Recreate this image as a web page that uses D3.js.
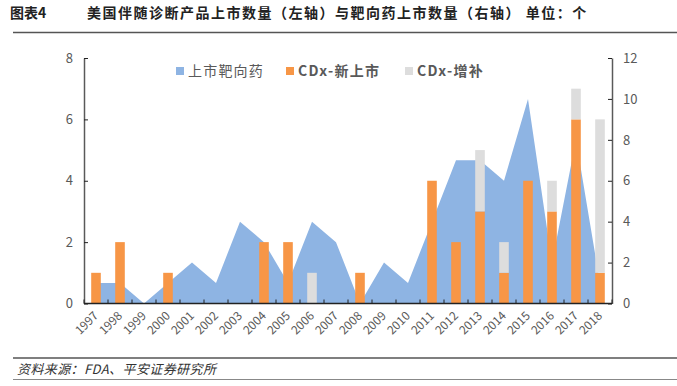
<!DOCTYPE html>
<html>
<head>
<meta charset="utf-8">
<script src="https://cdn.jsdelivr.net/npm/d3@7"></script>
<style>
  body { margin: 0; background: #fff; }
  svg text { font-family: "Noto Sans CJK SC", "Liberation Sans", sans-serif; }
</style>
</head>
<body>
<div id="chart"></div>
<script>
const years = ["1997","1998","1999","2000","2001","2002","2003","2004","2005","2006","2007",
  "2008","2009","2010","2011","2012","2013","2014","2015","2016","2017","2018"];
// 上市靶向药 (right axis)
const drugs = [1, 1, 0, 1, 2, 1, 4, 3, 1, 4, 3, 0, 2, 1, 4, 7, 7, 6, 10, 2, 8, 1];
// CDx-新上市 (left axis)
const cdxNew = [1, 2, 0, 1, 0, 0, 0, 2, 2, 0, 0, 1, 0, 0, 4, 2, 3, 1, 4, 3, 6, 1];
// CDx-增补 (left axis, stacked)
const cdxAdd = [0, 0, 0, 0, 0, 0, 0, 0, 0, 1, 0, 0, 0, 0, 0, 0, 2, 1, 0, 1, 1, 5];
const leftTicks = [0, 2, 4, 6, 8];
const rightTicks = [0, 2, 4, 6, 8, 10, 12];

const W = 677, H = 386;
const axisColor = "#595959";
const colBlue = "#8EB4E3", colOrange = "#F79646", colGrey = "#DDDDDD";

const svg = d3.select("#chart").append("svg")
  .attr("width", W).attr("height", H);

// header
svg.append("text")
  .attr("x", 10).attr("y", 18)
  .attr("font-size", 14).attr("font-weight", "bold").attr("fill", "#222")
  .text("图表4");
svg.append("text")
  .attr("x", 87).attr("y", 18)
  .attr("font-size", 14).attr("font-weight", "bold").attr("fill", "#222")
  .attr("letter-spacing", 1.5)
  .text("美国伴随诊断产品上市数量（左轴）与靶向药上市数量（右轴） 单位：个");
svg.append("line")
  .attr("x1", 13).attr("x2", W).attr("y1", 32.5).attr("y2", 32.5)
  .attr("stroke", "#555").attr("stroke-width", 1.5);

// scales
const x = d3.scaleBand().domain(years).range([84, 612]);
const yL = d3.scaleLinear().domain([0, 8]).range([303.5, 58]);
const yR = d3.scaleLinear().domain([0, 12]).range([303.5, 58]);
const bw = x.bandwidth();
const barW = bw * 0.4;

// area
const area = d3.area()
  .x((d, i) => x(years[i]) + bw / 2)
  .y0(yR(0))
  .y1(d => yR(d));
svg.append("path")
  .datum(drugs)
  .attr("fill", colBlue)
  .attr("d", area);

// bars
svg.append("g").selectAll("rect")
  .data(years)
  .join("rect")
  .attr("x", d => x(d) + (bw - barW) / 2)
  .attr("width", barW)
  .attr("y", (d, i) => yL(cdxNew[i]))
  .attr("height", (d, i) => yL(0) - yL(cdxNew[i]))
  .attr("fill", colOrange);

svg.append("g").selectAll("rect")
  .data(years)
  .join("rect")
  .attr("x", d => x(d) + (bw - barW) / 2)
  .attr("width", barW)
  .attr("y", (d, i) => yL(cdxNew[i] + cdxAdd[i]))
  .attr("height", (d, i) => yL(cdxNew[i]) - yL(cdxNew[i] + cdxAdd[i]))
  .attr("fill", colGrey);

// axes
function styleAxis(g) {
  g.select(".domain").attr("stroke", axisColor).attr("stroke-width", 1.5);
  g.selectAll(".tick line").attr("stroke", "#222");
  g.selectAll(".tick text").attr("fill", axisColor)
    .attr("font-family", "'Liberation Sans', Arial, sans-serif");
}

svg.append("g")
  .attr("transform", "translate(84,0)")
  .call(d3.axisRight(yL).tickValues(leftTicks).tickSize(4).tickSizeOuter(0).tickFormat(d3.format("d")))
  .call(styleAxis)
  .call(g => g.selectAll(".tick text")
    .attr("x", -11).attr("text-anchor", "end").attr("font-size", 13));

svg.append("g")
  .attr("transform", "translate(612,0)")
  .call(d3.axisLeft(yR).tickValues(rightTicks).tickSize(4).tickSizeOuter(0).tickFormat(d3.format("d")))
  .call(styleAxis)
  .call(g => g.selectAll(".tick text")
    .attr("x", 11).attr("text-anchor", "start").attr("font-size", 13));

// x axis: ticks between categories, pointing up
const xg = svg.append("g").attr("transform", "translate(0,303.5)");
xg.append("line")
  .attr("x1", 84).attr("x2", 612)
  .attr("stroke", "#222").attr("stroke-width", 1.5);
xg.selectAll("line.tk")
  .data(years.concat(["end"]))
  .join("line")
  .attr("class", "tk")
  .attr("x1", (d, i) => 84 + i * bw).attr("x2", (d, i) => 84 + i * bw)
  .attr("y1", 0).attr("y2", -4)
  .attr("stroke", "#222");
xg.selectAll("text")
  .data(years)
  .join("text")
  .attr("transform", d => `translate(${x(d) + bw / 2 + 3},${13}) rotate(-45)`)
  .attr("text-anchor", "end")
  .attr("font-size", 12)
  .attr("fill", axisColor)
  .attr("font-family", "'Liberation Sans', Arial, sans-serif")
  .text(d => d);

// legend
const legend = [
  { label: "上市靶向药", color: colBlue, x: 176, bold: false },
  { label: "CDx-新上市", color: colOrange, x: 286, bold: true },
  { label: "CDx-增补", color: colGrey, x: 405, bold: true }
];
const lg = svg.append("g").selectAll("g")
  .data(legend)
  .join("g")
  .attr("transform", d => `translate(${d.x},67)`);
lg.append("rect")
  .attr("width", 8).attr("height", 8)
  .attr("fill", d => d.color);
lg.append("text")
  .attr("x", 12).attr("y", 9)
  .attr("font-size", 14)
  .attr("letter-spacing", 1.2)
  .attr("font-weight", d => d.bold ? "bold" : "normal")
  .attr("fill", axisColor)
  .text(d => d.label);

// footer
svg.append("line")
  .attr("x1", 13).attr("x2", W).attr("y1", 358).attr("y2", 358)
  .attr("stroke", "#555").attr("stroke-width", 1.5);
svg.append("text")
  .attr("x", 17).attr("y", 374)
  .attr("font-size", 13).attr("font-style", "italic").attr("fill", "#333")
  .attr("letter-spacing", 0.4)
  .text("资料来源：FDA、平安证券研究所");
svg.append("line")
  .attr("x1", 13).attr("x2", W).attr("y1", 379.5).attr("y2", 379.5)
  .attr("stroke", "#888").attr("stroke-width", 1);
</script>
</body>
</html>
